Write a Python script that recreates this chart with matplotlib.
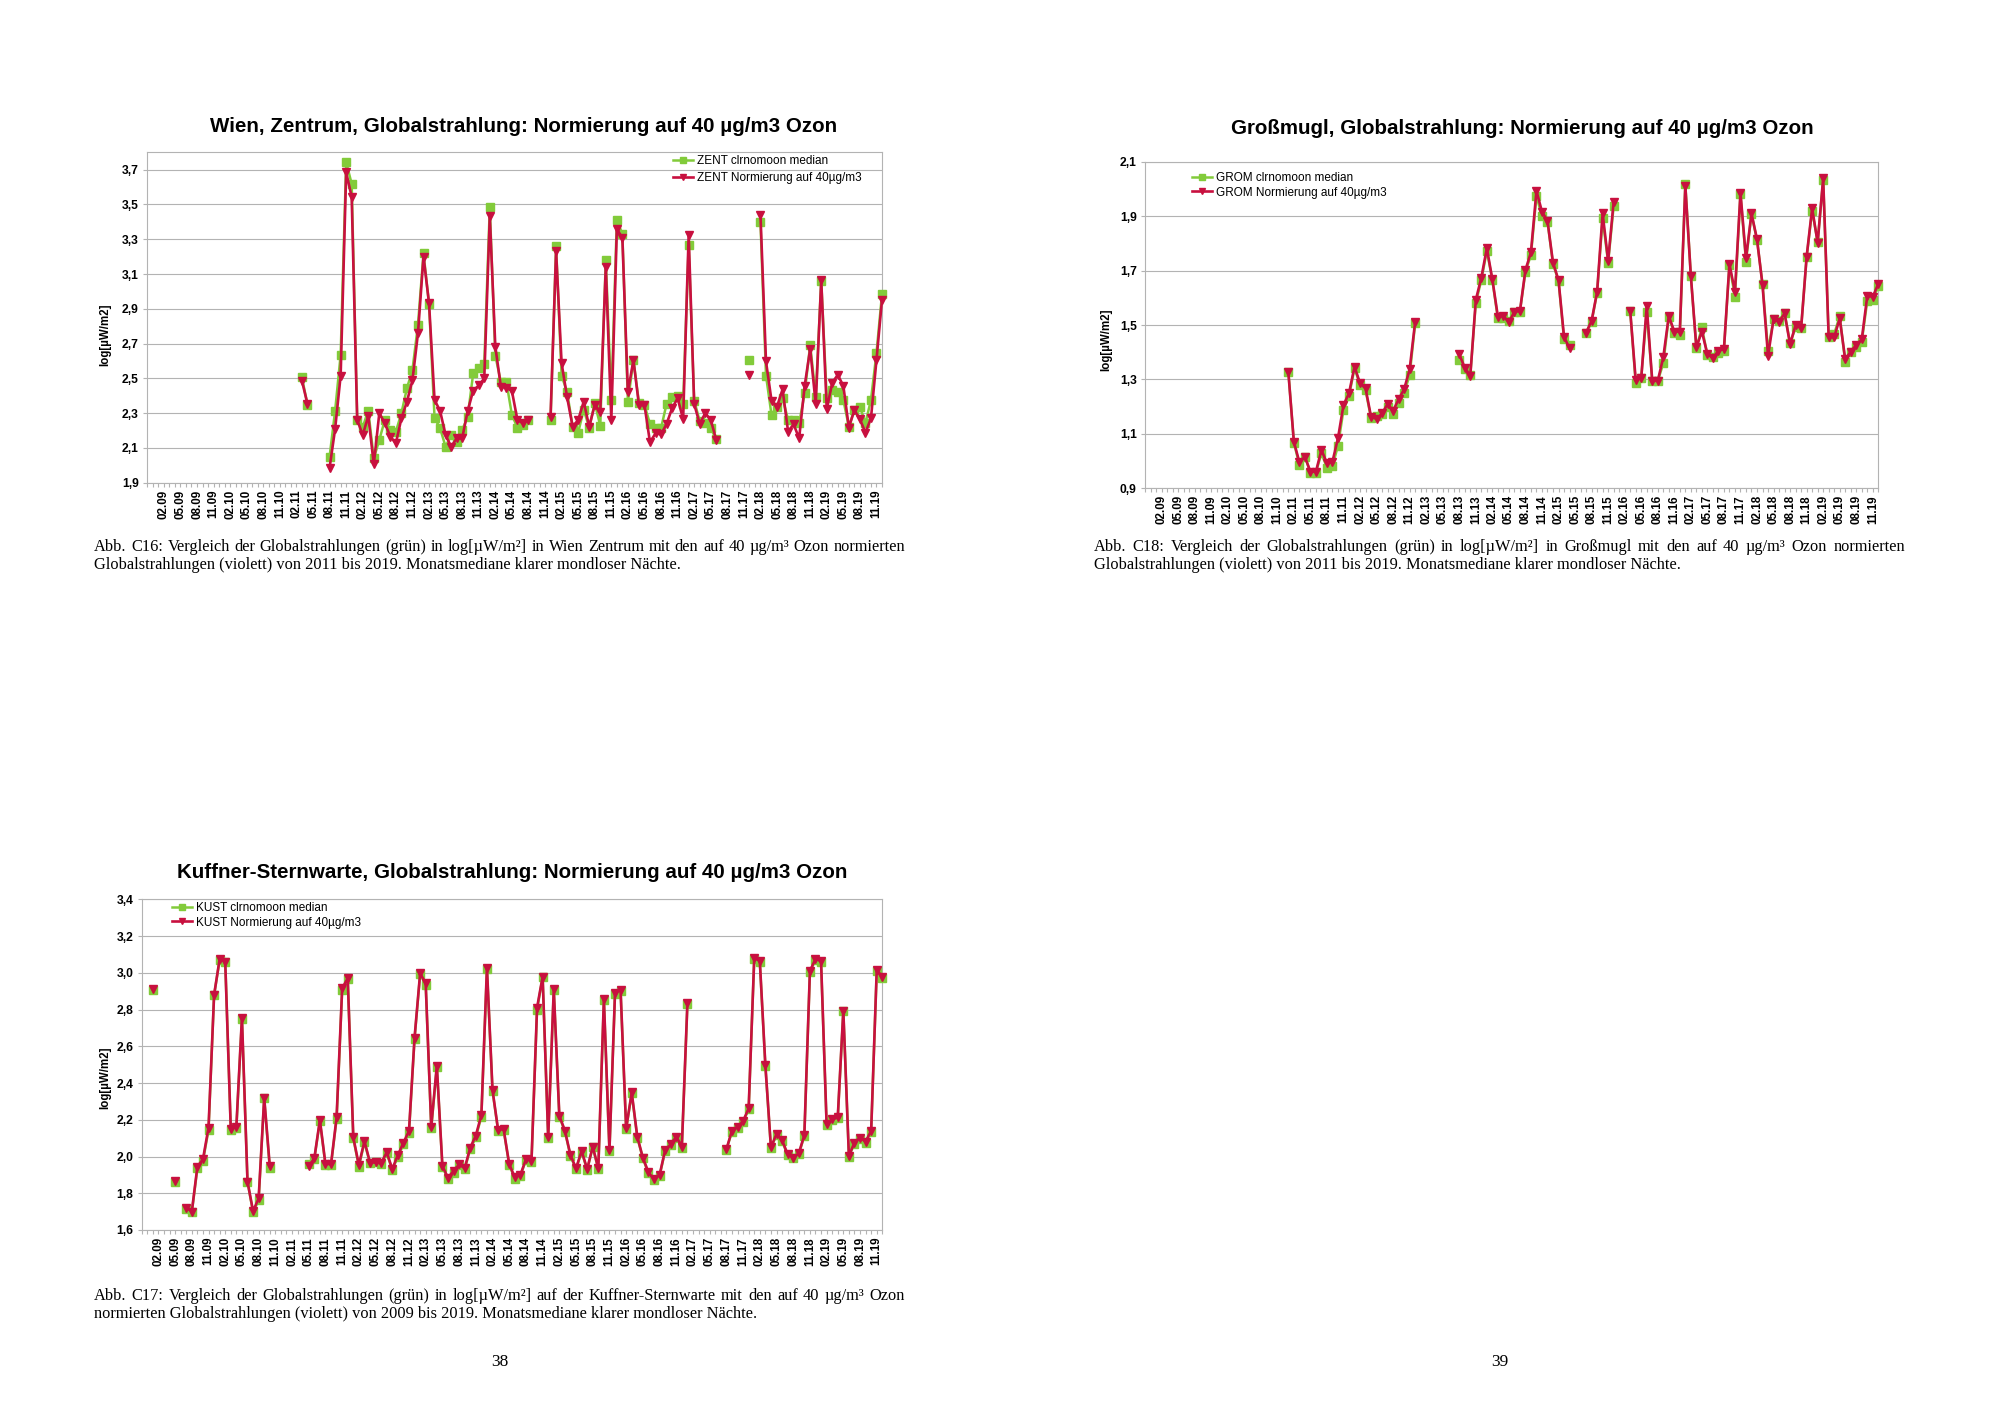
import numpy as np
import matplotlib
matplotlib.use("Agg")
import matplotlib.pyplot as plt
from matplotlib.ticker import FixedLocator, MultipleLocator, FuncFormatter

# ---------------- categories ----------------
all_months = [f"{m:02d}.{y:02d}" for y in range(8, 20) for m in range(1, 13)]
months = all_months[all_months.index("11.08"):all_months.index("12.19") + 1]
tick_labels = months[3::3]          # 02.09 ... 11.19

# ---------------- data (None = no value) ----------------
zent_start = "03.11"
zent_median = [2.505, 2.347, None, None, None, 2.05, 2.313, 2.635, 3.743, 3.618,
               2.261, 2.22, 2.315, 2.04, 2.146, 2.261, 2.203, 2.194, 2.30, 2.443,
               2.549, 2.808, 3.22, 2.927, 2.274, 2.213, 2.107, 2.174, 2.132, 2.203,
               2.28, 2.53, 2.558, 2.583, 3.483, 2.631, 2.48, 2.48, 2.29, 2.217,
               2.232, 2.261, None, None, None, 2.261, 3.259, 2.516, 2.42, 2.222,
               2.188, 2.32, 2.217, 2.357, 2.228, 3.182, 2.376, 3.412, 3.33, 2.363,
               2.606, 2.361, 2.347, 2.238, 2.213, 2.213, 2.353, 2.391, 2.401, 2.351,
               3.269, 2.372, 2.255, 2.242, 2.213, 2.15, None, None, None, None,
               None, 2.606, None, 3.397, 2.516, 2.29, 2.338, 2.386, 2.261, 2.261,
               2.242, 2.414, 2.693, 2.395, 3.061, 2.386, 2.434, 2.424, 2.376, 2.222,
               2.318, 2.338, 2.242, 2.376, 2.645, 2.984]
zent_norm = [2.485, 2.353, None, None, None, 1.986, 2.209, 2.516, 3.685, 3.543,
             2.261, 2.174, 2.284, 2.006, 2.30, 2.242, 2.165, 2.127, 2.27, 2.366,
             2.49, 2.76, 3.20, 2.933, 2.376, 2.313, 2.174, 2.107, 2.155, 2.155,
             2.313, 2.43, 2.459, 2.50, 3.432, 2.683, 2.453, 2.447, 2.428, 2.261,
             2.242, 2.261, None, None, None, 2.28, 3.23, 2.587, 2.391, 2.222,
             2.261, 2.366, 2.222, 2.347, 2.309, 3.14, 2.261, 3.359, 3.307, 2.42,
             2.606, 2.347, 2.347, 2.132, 2.184, 2.178, 2.238, 2.328, 2.386, 2.265,
             3.326, 2.353, 2.238, 2.30, 2.261, 2.146, None, None, None, None,
             None, 2.52, None, 3.441, 2.597, 2.372, 2.338, 2.437, 2.194, 2.236,
             2.155, 2.457, 2.67, 2.353, 3.063, 2.322, 2.476, 2.52, 2.457, 2.217,
             2.318, 2.265, 2.188, 2.27, 2.606, 2.952]

grom_start = "01.11"
grom_median = [1.329, 1.068, 0.986, 1.016, 0.958, 0.958, 1.029, 0.976, 0.982, 1.056,
               1.188, 1.239, 1.341, 1.28, 1.261, 1.157, 1.166, 1.172, 1.20, 1.172,
               1.215, 1.251, 1.316, 1.506, None, None, None, None, None, None,
               None, 1.371, 1.337, 1.316, 1.582, 1.665, 1.773, 1.665, 1.524, 1.524,
               1.516, 1.549, 1.549, 1.696, 1.757, 1.974, 1.90, 1.88, 1.724, 1.663,
               1.447, 1.427, None, None, 1.469, 1.512, 1.619, 1.892, 1.729, 1.937,
               None, None, 1.553, 1.286, 1.306, 1.549, 1.294, 1.294, 1.359, 1.528,
               1.472, 1.463, 2.018, 1.68, 1.414, 1.491, 1.39, 1.384, 1.396, 1.406,
               1.72, 1.604, 1.981, 1.733, 1.908, 1.812, 1.651, 1.406, 1.521, 1.516,
               1.545, 1.433, 1.491, 1.488, 1.749, 1.92, 1.806, 2.033, 1.457, 1.467,
               1.533, 1.365, 1.40, 1.418, 1.439, 1.589, 1.592, 1.643]
grom_norm = [1.326, 1.071, 0.996, 1.016, 0.961, 0.961, 1.041, 0.992, 0.998, 1.084,
             1.206, 1.249, 1.347, 1.286, 1.267, 1.163, 1.155, 1.175, 1.21, 1.185,
             1.227, 1.264, 1.337, 1.512, None, None, None, None, None, None,
             None, 1.392, 1.343, 1.314, 1.592, 1.674, 1.782, 1.668, 1.531, 1.533,
             1.51, 1.549, 1.551, 1.702, 1.767, 1.993, 1.916, 1.883, 1.729, 1.665,
             1.457, 1.414, None, None, 1.472, 1.515, 1.622, 1.91, 1.736, 1.953,
             None, None, 1.553, 1.298, 1.304, 1.57, 1.295, 1.295, 1.381, 1.533,
             1.476, 1.476, 2.011, 1.681, 1.418, 1.476, 1.393, 1.378, 1.406, 1.411,
             1.724, 1.622, 1.986, 1.745, 1.91, 1.815, 1.647, 1.386, 1.521, 1.512,
             1.543, 1.429, 1.50, 1.488, 1.751, 1.929, 1.802, 2.039, 1.455, 1.455,
             1.524, 1.374, 1.402, 1.427, 1.447, 1.607, 1.604, 1.651]

kust_start = "01.09"
kust_median = [2.906, None, None, None, 1.863, None, 1.714, 1.696, 1.936, 1.976,
               2.144, 2.879, 3.07, 3.061, 2.144, 2.157, 2.749, 1.863, 1.696, 1.763,
               2.317, 1.936, None, None, None, None, None, None, 1.959, 1.987,
               2.193, 1.954, 1.954, 2.204, 2.906, 2.965, 2.099, 1.945, 2.077, 1.963,
               1.972, 1.959, 2.017, 1.927, 1.999, 2.066, 2.13, 2.64, 2.992, 2.934,
               2.153, 2.489, 1.945, 1.876, 1.912, 1.954, 1.93, 2.041, 2.104, 2.217,
               3.019, 2.357, 2.141, 2.144, 1.954, 1.88, 1.894, 1.98, 1.972, 2.80,
               2.975, 2.10, 2.905, 2.217, 2.136, 2.003, 1.93, 2.026, 1.927, 2.05,
               1.93, 2.85, 2.03, 2.886, 2.90, 2.148, 2.343, 2.103, 1.99, 1.908,
               1.871, 1.894, 2.03, 2.06, 2.103, 2.048, 2.83, None, None, None,
               None, None, None, 2.035, 2.136, 2.153, 2.188, 2.257, 3.074, 3.06,
               2.493, 2.045, 2.118, 2.085, 2.006, 1.99, 2.012, 2.112, 3.005, 3.07,
               3.06, 2.17, 2.197, 2.208, 2.79, 2.0, 2.07, 2.098, 2.076, 2.136,
               3.01, 2.974]
kust_norm = [2.912, None, None, None, 1.867, None, 1.722, 1.70, 1.945, 1.985,
             2.157, 2.879, 3.075, 3.061, 2.148, 2.163, 2.756, 1.863, 1.703, 1.772,
             2.32, 1.948, None, None, None, None, None, None, 1.948, 1.99,
             2.199, 1.959, 1.959, 2.213, 2.916, 2.97, 2.104, 1.954, 2.084, 1.967,
             1.968, 1.963, 2.023, 1.932, 2.008, 2.075, 2.139, 2.647, 2.997, 2.943,
             2.163, 2.495, 1.948, 1.885, 1.921, 1.957, 1.936, 2.048, 2.114, 2.226,
             3.028, 2.362, 2.146, 2.148, 1.959, 1.887, 1.899, 1.985, 1.977, 2.81,
             2.979, 2.104, 2.91, 2.222, 2.141, 2.008, 1.936, 2.03, 1.932, 2.054,
             1.936, 2.856, 2.035, 2.892, 2.906, 2.153, 2.349, 2.108, 1.994, 1.914,
             1.876, 1.899, 2.035, 2.066, 2.108, 2.054, 2.834, None, None, None,
             None, None, None, 2.039, 2.141, 2.159, 2.193, 2.262, 3.079, 3.066,
             2.498, 2.05, 2.123, 2.09, 2.012, 1.994, 2.017, 2.117, 3.01, 3.075,
             3.064, 2.175, 2.202, 2.213, 2.794, 2.005, 2.075, 2.103, 2.081, 2.141,
             3.015, 2.979]

# ---------------- style ----------------
W, H = 2000, 1414
GREEN = "#82CB3A"
RED = "#C8103F"
GRID = "#b3b3b3"
SANS = ["Liberation Sans", "DejaVu Sans"]
SERIF = ["Liberation Serif", "DejaVu Serif"]
plt.rcParams["font.family"] = SANS

fig = plt.figure(figsize=(W / 100, H / 100), dpi=100)
fig.patch.set_facecolor("white")


def fx(px):
    return px / W


def fy(py):
    return 1 - py / H


def to_xy(start, vals):
    x0 = months.index(start)
    x = np.arange(len(vals)) + x0
    y = np.array([np.nan if v is None else v for v in vals], dtype=float)
    return x, y


comma = FuncFormatter(lambda v, p: f"{v:.1f}".replace(".", ","))


def make_chart(box, ylim, yticks, start, med, norm, station, title, title_xy,
               ylabel_xy, leg_xy, leg_spacing):
    l, t, r, b = box
    ax = fig.add_axes([fx(l), fy(b), fx(r) - fx(l), fy(t) - fy(b)])
    x, g = to_xy(start, med)
    _, rr = to_xy(start, norm)
    ax.plot(x, g, color=GREEN, marker="s", ms=5.2, lw=1.8, mec=GREEN,
            label=f"{station} clrnomoon median", clip_on=False, zorder=3)
    ax.plot(x, rr, color=RED, marker="v", ms=5.6, lw=1.9, mec=RED,
            label=f"{station} Normierung auf 40µg/m3", clip_on=False, zorder=4)
    ax.set_xlim(0, len(months) - 1)
    ax.set_ylim(*ylim)
    ax.yaxis.set_major_locator(FixedLocator(yticks))
    ax.yaxis.set_major_formatter(comma)
    ax.xaxis.set_major_locator(FixedLocator(list(range(3, len(months), 3))))
    ax.set_xticklabels(tick_labels, rotation=90, fontsize=8.4,
                       fontweight="bold")
    ax.xaxis.set_minor_locator(MultipleLocator(1))
    for lab in ax.get_yticklabels():
        lab.set_fontweight("bold")
        lab.set_fontsize(8.7)
    ax.tick_params(axis="both", which="both", color=GRID, length=3,
                   width=0.8, direction="out", pad=2)
    ax.tick_params(axis="y", pad=3)
    ax.grid(axis="y", color=GRID, lw=0.8)
    ax.set_axisbelow(True)
    for s in ax.spines.values():
        s.set_color(GRID)
        s.set_linewidth(0.8)
    fig.text(fx(title_xy[0]), fy(title_xy[1]), title, ha="center",
             va="center", fontsize=14.8, fontweight="bold")
    fig.text(fx(ylabel_xy[0]), fy(ylabel_xy[1]), "log[µW/m2]", rotation=90,
             ha="center", va="center", fontsize=8.3, fontweight="bold")
    ax.legend(loc="upper left", bbox_to_anchor=(fx(leg_xy[0]), fy(leg_xy[1])),
              bbox_transform=fig.transFigure, frameon=False, fontsize=8.5,
              handlelength=1.7, handletextpad=0.3, borderpad=0,
              borderaxespad=0, labelspacing=leg_spacing, markerscale=0.85)
    return ax


make_chart((147.3, 152.3, 882.0, 482.7), (1.9, 3.8),
           [1.9, 2.1, 2.3, 2.5, 2.7, 2.9, 3.1, 3.3, 3.5, 3.7],
           zent_start, zent_median, zent_norm, "ZENT",
           "Wien, Zentrum, Globalstrahlung: Normierung auf 40 µg/m3 Ozon",
           (523.5, 126.5), (105, 335), (673, 155), 0.45)

make_chart((1145.0, 161.7, 1878.3, 488.3), (0.9, 2.1),
           [0.9, 1.1, 1.3, 1.5, 1.7, 1.9, 2.1],
           grom_start, grom_median, grom_norm, "GROM",
           "Großmugl, Globalstrahlung: Normierung auf 40 µg/m3 Ozon",
           (1522.8, 128.8), (1106, 340), (1192, 172), 0.22)

make_chart((141.7, 899.3, 882.3, 1230.0), (1.6, 3.4),
           [1.6, 1.8, 2.0, 2.2, 2.4, 2.6, 2.8, 3.0, 3.2, 3.4],
           kust_start, kust_median, kust_norm, "KUST",
           "Kuffner-Sternwarte, Globalstrahlung: Normierung auf 40 µg/m3 Ozon",
           (511.7, 873.0), (105, 1078), (172, 902), 0.22)

# ---------------- captions ----------------
renderer = fig.canvas.get_renderer()
CAP_SIZE = 11.8


def justified(text, x0, x1, y, size=CAP_SIZE):
    words = text.split(" ")
    while True:
        objs = [fig.text(0, 0, w, fontsize=size, family=SERIF,
                         va="baseline", ha="left") for w in words]
        ws = [o.get_window_extent(renderer).width for o in objs]
        gap = ((x1 - x0) - sum(ws)) / (len(words) - 1)
        if gap >= 3.0:
            break
        for o in objs:
            o.remove()
        size -= 0.2
    cur = x0
    for o, w in zip(objs, ws):
        o.set_position((fx(cur), fy(y)))
        cur += w + gap
    return size


def plain(text, x0, y, size=CAP_SIZE):
    fig.text(fx(x0), fy(y), text, fontsize=size, family=SERIF,
             va="baseline", ha="left")


s = justified("Abb. C16: Vergleich der Globalstrahlungen (grün) in log[µW/m²] in "
              "Wien Zentrum mit den auf 40 µg/m³ Ozon normierten", 94, 905, 551)
plain("Globalstrahlungen (violett) von 2011 bis 2019. Monatsmediane klarer "
      "mondloser Nächte.", 94, 569, s)

s = justified("Abb. C18: Vergleich der Globalstrahlungen (grün) in log[µW/m²] in "
              "Großmugl mit den auf 40 µg/m³ Ozon normierten", 1094, 1905, 551)
plain("Globalstrahlungen (violett) von 2011 bis 2019. Monatsmediane klarer "
      "mondloser Nächte.", 1094, 569, s)

s = justified("Abb. C17: Vergleich der Globalstrahlungen (grün) in log[µW/m²] auf "
              "der Kuffner-Sternwarte mit den auf 40 µg/m³ Ozon", 94, 905, 1300)
plain("normierten Globalstrahlungen (violett) von 2009 bis 2019. Monatsmediane "
      "klarer mondloser Nächte.", 94, 1318, s)

fig.text(fx(500), fy(1362), "38", fontsize=12.5, family=SERIF,
         ha="center", va="center")
fig.text(fx(1500), fy(1362), "39", fontsize=12.5, family=SERIF,
         ha="center", va="center")

fig.savefig("out.png", dpi=100, facecolor="white")
